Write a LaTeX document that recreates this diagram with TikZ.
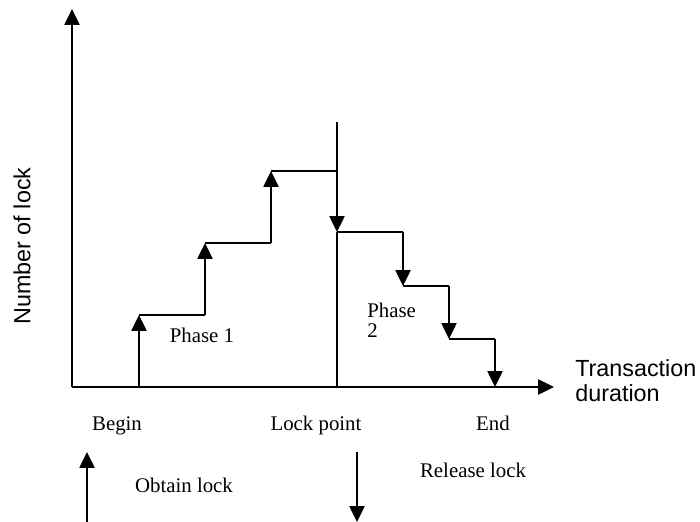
\documentclass[tikz,border=0pt]{standalone}
\usepackage{fontspec}
\setmainfont{Liberation Serif}
\newfontfamily\arialfont{Liberation Sans}
\usetikzlibrary{arrows.meta}
\begin{document}
\begin{tikzpicture}[x=0.6pt,y=-0.6pt,
  tip/.style={-{Triangle[width=9pt,length=9.5pt]}},
  lockarrow/.style={line width=1.2pt,tip},
  stepline/.style={line width=1pt},
  axisline/.style={line width=1.2pt},
  serif/.style={font=\fontsize{12.5}{11.7}\selectfont, inner sep=0pt},
  sanslabel/.style={font=\arialfont\fontsize{14}{15}\selectfont, inner sep=0pt}]
\useasboundingbox (0,0) rectangle (700,522);

% axes
\coordinate (O) at (72,387);
\coordinate (ytop) at (72,9);
\coordinate (xend) at (554,387);
\draw[axisline,tip] (O) -- (ytop);
\draw[axisline,tip] (O) -- (xend);

% growing phase: one step per lock obtained
\coordinate (b0) at (139,387);
\coordinate (b1) at (139,315);
\coordinate (c0) at (205,315);
\coordinate (c1) at (205,243);
\coordinate (d0) at (271,243);
\coordinate (d1) at (271,171);
\coordinate (lp) at (337,171);
\draw[lockarrow] (b0) -- (b1);
\draw[stepline] (b1) -- (c0);
\draw[lockarrow] (c0) -- (c1);
\draw[stepline] (c1) -- (d0);
\draw[lockarrow] (d0) -- (d1);
\draw[stepline] (d1) -- (lp);

% lock point
\coordinate (lptop) at (337,122);
\coordinate (lpmid) at (337,232);
\coordinate (lpbase) at (337,387);
\draw[lockarrow] (lptop) -- (lpmid);
\draw[axisline] (lpmid) -- (lpbase);

% shrinking phase: one step per lock released
\coordinate (e0) at (403,232);
\coordinate (e1) at (403,286);
\coordinate (f0) at (449,286);
\coordinate (f1) at (449,339);
\coordinate (g0) at (495,339);
\coordinate (g1) at (495,387);
\draw[stepline] (lpmid) -- (e0);
\draw[lockarrow] (e0) -- (e1);
\draw[stepline] (e1) -- (f0);
\draw[lockarrow] (f0) -- (f1);
\draw[stepline] (f1) -- (g0);
\draw[lockarrow] (g0) -- (g1);

% phase labels
\node[serif, anchor=base] (ph1) at (202,343) {Phase 1};
\node[serif, anchor=west, align=left] (ph2) at (367,320.5) {Phase\\2};

% axis labels
\node[sanslabel, rotate=90] (ylab) at (22,246) {Number of lock};
\node[sanslabel, anchor=west, align=left] (xlab) at (575,380.5) {Transaction\\duration};

% time points, set on a common baseline
\node[serif, anchor=base] (begin) at (117,431) {Begin};
\node[serif, anchor=base] (lockpt) at (316,431) {Lock point};
\node[serif, anchor=base] (end) at (493,431) {End};

% legend
\coordinate (ob0) at (87,522);
\coordinate (ob1) at (87,452);
\draw[lockarrow] (ob0) -- (ob1);
\node[serif, anchor=base] (obtain) at (184,493) {Obtain lock};
\coordinate (rl0) at (357,452);
\coordinate (rl1) at (357,522);
\draw[lockarrow] (rl0) -- (rl1);
\node[serif, anchor=base] (release) at (473,478) {Release lock};
\end{tikzpicture}
\end{document}
